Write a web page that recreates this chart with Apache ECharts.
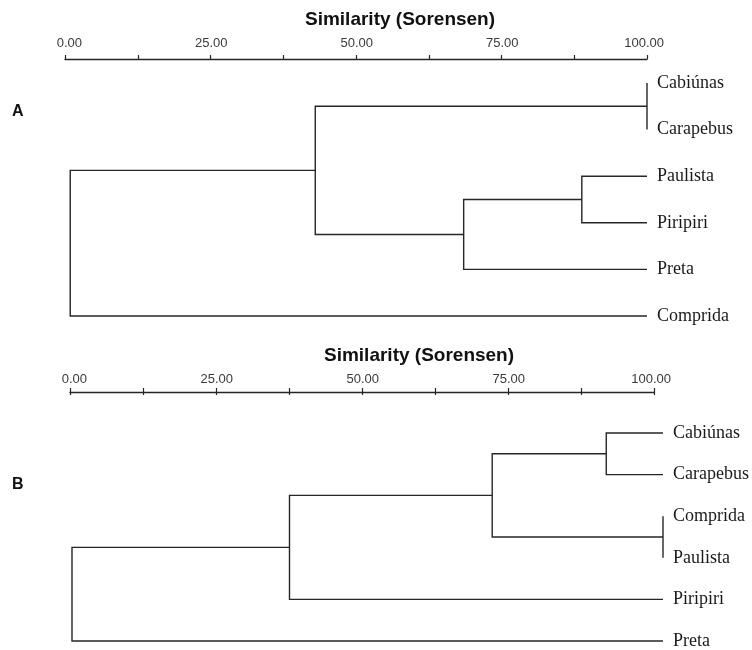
<!DOCTYPE html>
<html>
<head>
<meta charset="utf-8">
<script src="https://cdn.jsdelivr.net/npm/echarts@6/dist/echarts.min.js"></script>
<style>
  html, body { margin: 0; padding: 0; background: #fff; }
  #chart { width: 752px; height: 650px; }
</style>
</head>
<body>
<div id="chart"></div>
<script>
// ---------- data ----------
const axisTitle = 'Similarity (Sorensen)';
const panelLetters = ['A', 'B'];
const tickLabelValues = [0, 25, 50, 75, 100];

// Panel A: leaf order (top to bottom) and merges [childA, childB, similarity]
const leavesA = ['Cabiúnas', 'Carapebus', 'Paulista', 'Piripiri', 'Preta', 'Comprida'];
const mergesA = [
  [0, 1, 100],
  [2, 3, 88.8],
  [7, 4, 68.5],
  [6, 8, 43.0],
  [9, 5, 0.9]
];

// Panel B
const leavesB = ['Cabiúnas', 'Carapebus', 'Comprida', 'Paulista', 'Piripiri', 'Preta'];
const mergesB = [
  [0, 1, 90.4],
  [2, 3, 100],
  [6, 7, 71.1],
  [8, 4, 36.8],
  [9, 5, 0]
];
const leafLevel = 100;

// ---------- build links ----------
function buildLinks(leaves, merges) {
  const nodes = leaves.map((n, i) => ({ x: leafLevel, y: i }));
  const links = [];
  merges.forEach(m => {
    const a = nodes[m[0]], b = nodes[m[1]];
    const top = a.y <= b.y ? a : b;
    const bot = a.y <= b.y ? b : a;
    links.push([top.x, top.y, m[2], bot.y, bot.x]);
    nodes.push({ x: m[2], y: (a.y + b.y) / 2 });
  });
  return links;
}

const lineColor = '#262626';
function renderLink(params, api) {
  const p1 = api.coord([api.value(0), api.value(1)]);
  const p2 = api.coord([api.value(2), api.value(1)]);
  const p3 = api.coord([api.value(2), api.value(3)]);
  const p4 = api.coord([api.value(4), api.value(3)]);
  return {
    type: 'polyline',
    shape: { points: [p1, p2, p3, p4] },
    style: { stroke: lineColor, lineWidth: 1.4, fill: null }
  };
}

const tickFmt = v => tickLabelValues.indexOf(v) >= 0 ? v.toFixed(2) : '';

// visible scale axis: line + ticks, no labels
function scaleAxis(gridIndex, tickInside, showLine) {
  return {
    type: 'value', gridIndex: gridIndex, position: 'top',
    min: 0, max: 100, interval: 12.5,
    splitLine: { show: false },
    axisLine: { show: showLine, onZero: false, lineStyle: { color: lineColor, width: 1.4 } },
    axisTick: { show: true, inside: tickInside, length: tickInside ? 3 : 4, lineStyle: { color: lineColor, width: 1.2 } },
    axisLabel: { show: false }
  };
}
// label-only axis (labels right-aligned a little right of each tick, as in the reference)
function labelAxis(gridIndex, margin) {
  return {
    type: 'value', gridIndex: gridIndex, position: 'top',
    min: 0, max: 100, interval: 12.5,
    splitLine: { show: false },
    axisLine: { show: false, onZero: false },
    axisTick: { show: false },
    axisLabel: {
      show: true, margin: margin, align: 'right', showMinLabel: true, showMaxLabel: true,
      formatter: tickFmt,
      fontFamily: 'Liberation Sans, Arial, sans-serif', fontSize: 13, color: '#3a3a3a'
    }
  };
}

function treeX(gridIndex) {
  return { type: 'value', gridIndex: gridIndex, min: 0, max: 100, show: false };
}
function treeY(gridIndex, leaves) {
  return {
    type: 'value', gridIndex: gridIndex, min: 0, max: leaves.length - 1, interval: 1,
    inverse: true, position: 'right',
    axisLine: { show: false }, axisTick: { show: false }, splitLine: { show: false },
    axisLabel: {
      margin: 10, formatter: v => leaves[v] || '',
      fontFamily: 'Liberation Serif, Times New Roman, serif', fontSize: 18, color: '#1a1a1a'
    }
  };
}
function hiddenY(gridIndex) {
  return { type: 'value', gridIndex: gridIndex, show: false };
}

const chart = echarts.init(document.getElementById('chart'), null, { renderer: 'canvas' });
const titleStyle = { fontFamily: 'Liberation Sans, Arial, sans-serif', fontWeight: 'bold', fontSize: 19, color: '#111' };
const letterStyle = { fontFamily: 'Liberation Sans, Arial, sans-serif', fontWeight: 'bold', fontSize: 16, color: '#111' };

chart.setOption({
  backgroundColor: '#fff',
  animation: false,
  title: [
    { text: axisTitle, left: 305, top: 10, padding: 0, textStyle: titleStyle },
    { text: axisTitle, left: 324, top: 346, padding: 0, textStyle: titleStyle },
    { text: panelLetters[0], left: 12, top: 104, padding: 0, textStyle: letterStyle },
    { text: panelLetters[1], left: 12, top: 477, padding: 0, textStyle: letterStyle }
  ],
  grid: [
    { left: 65, right: 105, top: 59, height: 10 },          // 0 axis A
    { left: 65, right: 105, top: 83, height: 233 },         // 1 tree A
    { left: 70, right: 98, top: 392, height: 10 },          // 2 axis B
    { left: 72, right: 89, top: 433, height: 209 },         // 3 tree B
    { left: 82, right: 88, top: 59, height: 10 },           // 4 labels A
    { left: 87, right: 81, top: 392, height: 10 }           // 5 labels B
  ],
  xAxis: [
    scaleAxis(0, false, true),
    treeX(1),
    scaleAxis(2, false, true),
    treeX(3),
    scaleAxis(2, true, false),
    labelAxis(4, 9),
    labelAxis(5, 6)
  ],
  yAxis: [
    hiddenY(0),
    treeY(1, leavesA),
    hiddenY(2),
    treeY(3, leavesB),
    hiddenY(4),
    hiddenY(5)
  ],
  series: [
    {
      type: 'custom', xAxisIndex: 1, yAxisIndex: 1,
      renderItem: renderLink, data: buildLinks(leavesA, mergesA),
      encode: { x: [0, 2, 4], y: [1, 3] }, clip: false, silent: true
    },
    {
      type: 'custom', xAxisIndex: 3, yAxisIndex: 3,
      renderItem: renderLink, data: buildLinks(leavesB, mergesB),
      encode: { x: [0, 2, 4], y: [1, 3] }, clip: false, silent: true
    }
  ]
});
</script>
</body>
</html>
